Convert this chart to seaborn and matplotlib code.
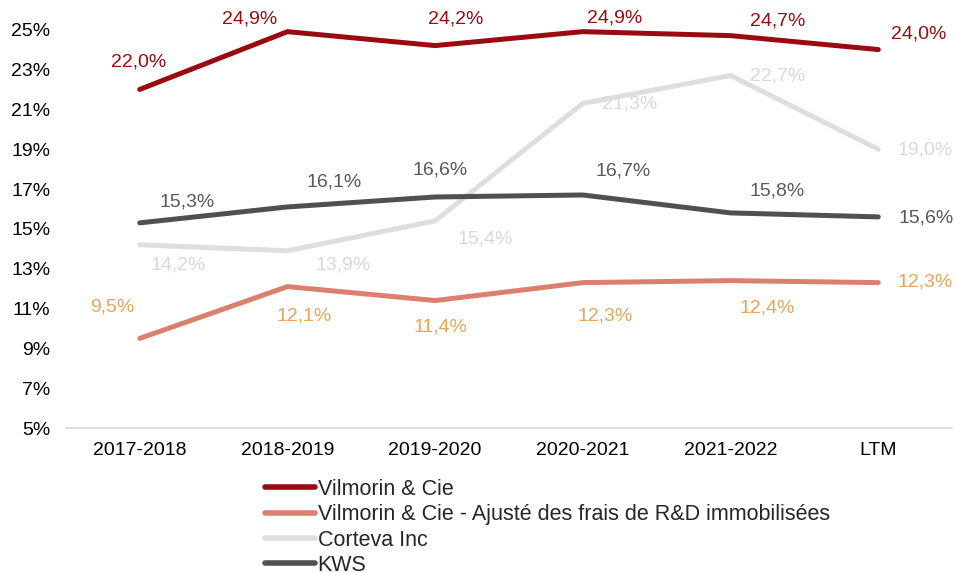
import matplotlib
matplotlib.use("Agg")
import matplotlib.pyplot as plt
import pandas as pd
import seaborn as sns
from matplotlib.ticker import FuncFormatter

periods = ["2017-2018", "2018-2019", "2019-2020", "2020-2021", "2021-2022", "LTM"]
vilmorin = [22.0, 24.9, 24.2, 24.9, 24.7, 24.0]
vilmorin_adj = [9.5, 12.1, 11.4, 12.3, 12.4, 12.3]
corteva = [14.2, 13.9, 15.4, 21.3, 22.7, 19.0]
kws = [15.3, 16.1, 16.6, 16.7, 15.8, 15.6]
names = ["Vilmorin & Cie",
         "Vilmorin & Cie - Ajusté des frais de R&D immobilisées",
         "Corteva Inc", "KWS"]

line_colors = ["#990B11", "#D9806E", "#DEDEDE", "#505050"]
label_colors = ["#990B11", "#E8A55A", "#D9D9D9", "#595959"]
# label offsets in pixels (dx, dy) relative to each point
offsets = [
    [(-1, 27), (-38, 13), (21, 27), (32, 14), (47, 15), (40, 16)],
    [(-27, 31), (17, -29), (5, -26), (22, -33), (37, -27), (47, 1)],
    [(38, -20), (56, -14), (50, -18), (47, -1), (47, -1), (47, -1)],
    [(47, 21), (47, 25), (5, 27), (40, 24), (47, 22), (48, -1)],
]

series = [vilmorin, vilmorin_adj, corteva, kws]
df = pd.DataFrame({
    "period": periods * 4,
    "value": vilmorin + vilmorin_adj + corteva + kws,
    "company": [n for n in names for _ in periods],
})

sns.set_theme(style="white")
plt.rcParams["font.family"] = ["Liberation Sans", "DejaVu Sans"]

fig = plt.figure(figsize=(9.55, 5.73), dpi=100)
ax = fig.add_axes([0.069, 0.253, 0.928, 0.73])

sns.lineplot(data=df, x="period", y="value", hue="company", hue_order=names,
             palette=line_colors, linewidth=3.6, sort=False, ax=ax)

for vals, offs, col in zip(series, offsets, label_colors):
    for i, (v, (dx, dy)) in enumerate(zip(vals, offs)):
        ax.annotate(f"{v:.1f}%".replace(".", ","), (i, v), xytext=(dx, dy),
                    textcoords="offset pixels", ha="center", va="center",
                    fontsize=14, color=col)

ax.set_xlim(-0.5, 5.5)
ax.set_ylim(5, 26)
ax.set_yticks(range(5, 26, 2))
ax.yaxis.set_major_formatter(FuncFormatter(lambda v, _: f"{v:.0f}%"))
ax.set_xlabel(""); ax.set_ylabel("")
ax.tick_params(axis="both", labelsize=14, colors="black", length=0)
ax.tick_params(axis="y", pad=11)
ax.tick_params(axis="x", pad=10)
for s in ["top", "right", "left"]:
    ax.spines[s].set_visible(False)
ax.spines["bottom"].set_color("#D9D9D9")
ax.spines["bottom"].set_linewidth(1.2)

handles, labels = ax.get_legend_handles_labels()
ax.get_legend().remove()
leg = fig.legend(handles, labels, loc="upper left", bbox_to_anchor=(0.277, 0.164),
                 frameon=False, fontsize=15.5, handlelength=2.33, handletextpad=0.14,
                 labelspacing=0.2, borderpad=0, borderaxespad=0)
for h in leg.get_lines():
    h.set_linewidth(4)

fig.savefig("out.png", dpi=100)
